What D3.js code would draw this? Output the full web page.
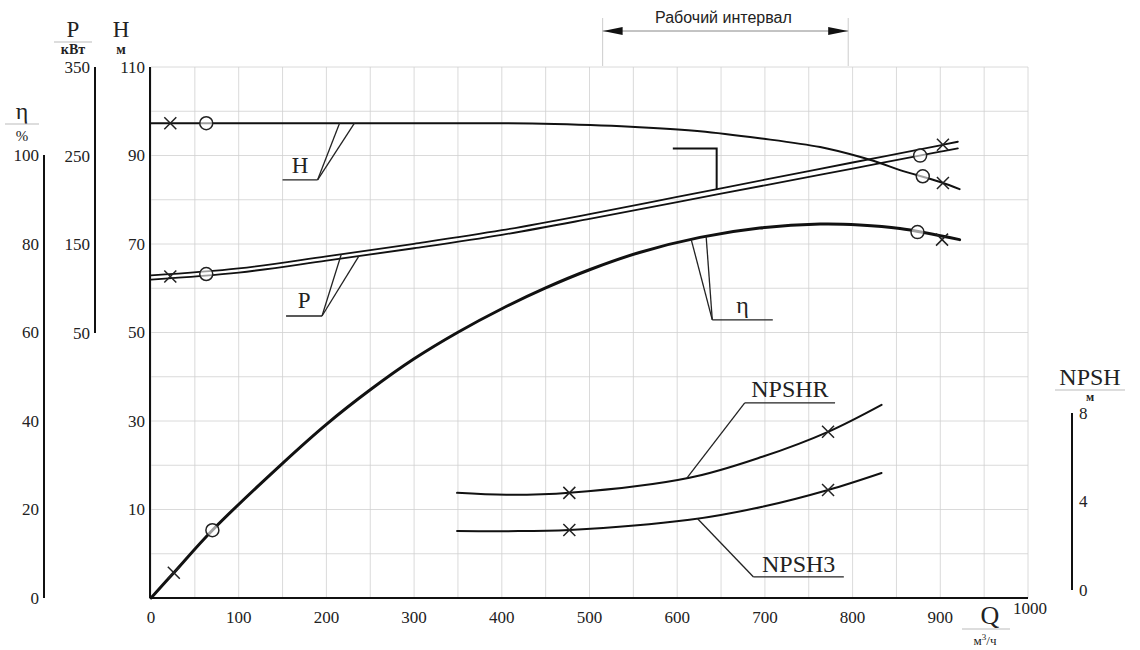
<!DOCTYPE html>
<html>
<head>
<meta charset="utf-8">
<script src="https://cdn.jsdelivr.net/npm/d3@7"></script>
<style>
  body { margin: 0; background: #fff; }
  svg { font-family: "Liberation Serif", "Times New Roman", serif; }
</style>
</head>
<body>
<div id="chart"></div>
<script>
// --- данные ---
var hQ = [0, 100, 200, 300, 400, 460, 557, 626, 694, 763, 808, 831, 854, 900, 922];
var hVal = [97.3, 97.3, 97.3, 97.3, 97.3, 97.1, 96.4, 95.5, 93.9, 91.9, 89.7, 88.3, 86.7, 84.0, 82.4];

var pQ = [0, 100, 200, 300, 400, 500, 600, 700, 800, 900, 920];
var pUpper = [114.9, 122.8, 136.4, 150.6, 165.9, 184.1, 203.5, 222.9, 242.3, 261.7, 265.7];
var pLower = [110.3, 118.2, 131.6, 145.6, 160.7, 178.7, 197.7, 216.5, 235.5, 254.5, 258.3];

var etaQ = [0, 26, 70, 150, 200, 250, 300, 350, 400, 450, 500, 557, 626, 694, 763, 808, 854, 922];
var etaVal = [0, 5.7, 15.3, 30.4, 39.2, 47.0, 54.0, 60.0, 65.3, 70.0, 74.1, 78.0, 81.4, 83.5, 84.4, 84.2, 83.4, 80.9];

var npshQ = [349, 405, 477, 614, 697, 772, 833];
var npshrVal = [4.39, 4.30, 4.39, 5.07, 6.02, 7.15, 8.37];
var npsh3Val = [2.67, 2.66, 2.71, 3.17, 3.76, 4.52, 5.29];

var hMarks = [[22, 97.3, "x"], [63, 97.3, "o"], [880, 85.3, "o"], [903, 83.8, "x"]];
var pMarks = [[22, 113.7, "x"], [63, 116.5, "o"], [877, 250.1, "o"], [903, 262.3, "x"]];
var etaMarks = [[26, 5.7, "x"], [70, 15.3, "o"], [874, 82.6, "o"], [902, 80.9, "x"]];
var npshrMarks = [[477, 4.39], [772, 7.15]];
var npsh3Marks = [[477, 2.71], [772, 4.52]];

var qTicks = [0, 100, 200, 300, 400, 500, 600, 700, 800, 900, 1000];
var hTicks = [10, 30, 50, 70, 90, 110];
var pTicks = [50, 150, 250, 350];
var etaTicks = [0, 20, 40, 60, 80, 100];
var npshTicks = [0, 4, 8];
var workRange = [515, 795];

var width = 1140, height = 650;

var svg = d3.select("#chart").append("svg")
    .attr("width", width)
    .attr("height", height);

var x = d3.scaleLinear().domain([0, 1000]).range([151, 1028]);
var yH = d3.scaleLinear().domain([-10, 110]).range([598, 67]);
var yP = d3.scaleLinear().domain([50, 350]).range([333, 67]);
var yEta = d3.scaleLinear().domain([0, 100]).range([598, 155]);
var yN = d3.scaleLinear().domain([0, 8]).range([590, 413]);

// сетка
var grid = svg.append("g").attr("stroke", "#d0d0d0").attr("stroke-width", 0.8);
grid.selectAll("line.v")
    .data(d3.range(0, 1001, 50))
    .enter().append("line")
    .attr("x1", d => x(d)).attr("x2", d => x(d))
    .attr("y1", yH(110)).attr("y2", yH(-10));
grid.selectAll("line.h")
    .data(d3.range(-10, 111, 10))
    .enter().append("line")
    .attr("x1", x(0)).attr("x2", x(1000))
    .attr("y1", d => yH(d)).attr("y2", d => yH(d));

// оси
function vAxis(scale, xpos, ticks, lo, hi, labelDx) {
    var g = svg.append("g");
    g.append("line")
        .attr("x1", xpos).attr("x2", xpos)
        .attr("y1", scale(hi)).attr("y2", scale(lo))
        .attr("stroke", "#111").attr("stroke-width", 2);
    g.selectAll("text")
        .data(ticks)
        .enter().append("text")
        .attr("x", xpos + labelDx)
        .attr("y", d => scale(d))
        .attr("dy", "0.35em")
        .attr("text-anchor", labelDx < 0 ? "end" : "start")
        .attr("font-size", 17)
        .attr("fill", "#222")
        .text(d => d);
}
vAxis(yEta, 44, etaTicks, 0, 100, -5);
vAxis(yP, 95, pTicks, 50, 350, -5);
vAxis(yH, 150, hTicks, -10, 110, -5);
vAxis(yN, 1072, npshTicks, 0, 8, 7);

svg.append("line")
    .attr("x1", x(0) - 1).attr("x2", x(1000))
    .attr("y1", yH(-10)).attr("y2", yH(-10))
    .attr("stroke", "#111").attr("stroke-width", 2);
svg.append("g").selectAll("text")
    .data(qTicks)
    .enter().append("text")
    .attr("x", d => x(d) + (d === 1000 ? 2 : 0))
    .attr("y", d => d === 1000 ? 614 : 623)
    .attr("text-anchor", "middle")
    .attr("font-size", 17)
    .attr("fill", "#222")
    .text(d => d);

// подписи осей
function axisTitle(cx, top, main, unit, size, rule, unitDy, unitSize, bold) {
    svg.append("text").attr("x", cx).attr("y", top)
        .attr("text-anchor", "middle").attr("font-size", size).attr("fill", "#222").text(main);
    if (rule) {
        svg.append("line").attr("x1", cx - rule).attr("x2", cx + rule)
            .attr("y1", top + 5).attr("y2", top + 5)
            .attr("stroke", "#bbb").attr("stroke-width", 1);
    }
    svg.append("text").attr("x", cx).attr("y", top + unitDy)
        .attr("text-anchor", "middle").attr("font-size", unitSize)
        .attr("font-weight", bold ? "bold" : "normal")
        .attr("fill", "#222").text(unit);
}
axisTitle(22, 119, "η", "%", 24, 17, 22, 15, false);
axisTitle(73, 37, "P", "кВт", 23, 19, 17, 14, true);
axisTitle(121, 37, "H", "м", 23, 0, 17, 14, true);
axisTitle(1090, 385, "NPSH", "м", 24, 35, 16, 12, true);

svg.append("text").attr("x", 990).attr("y", 624)
    .attr("text-anchor", "middle").attr("font-size", 26).attr("fill", "#222").text("Q");
svg.append("line").attr("x1", 962).attr("x2", 1010).attr("y1", 629).attr("y2", 629)
    .attr("stroke", "#bbb");
var qUnit = svg.append("text").attr("x", 985).attr("y", 645)
    .attr("text-anchor", "middle").attr("font-size", 13).attr("fill", "#222");
qUnit.append("tspan").text("м");
qUnit.append("tspan").attr("dy", -5).attr("font-size", 9).text("3");
qUnit.append("tspan").attr("dy", 5).text("/ч");

// рабочий интервал
svg.append("defs").selectAll("marker")
    .data(["arrowEnd", "arrowStart"])
    .enter().append("marker")
    .attr("id", d => d)
    .attr("viewBox", "0 0 20 8")
    .attr("refX", 20).attr("refY", 4)
    .attr("markerWidth", 20).attr("markerHeight", 8)
    .attr("markerUnits", "userSpaceOnUse")
    .attr("orient", d => d === "arrowEnd" ? "auto" : "auto-start-reverse")
    .append("path").attr("d", "M0,0L20,4L0,8Z").attr("fill", "#111");

svg.selectAll("line.work")
    .data(workRange)
    .enter().append("line")
    .attr("x1", d => x(d)).attr("x2", d => x(d))
    .attr("y1", 18).attr("y2", 66)
    .attr("stroke", "#ccc").attr("stroke-width", 1);
svg.append("line")
    .attr("x1", x(workRange[0])).attr("x2", x(workRange[1]))
    .attr("y1", 31).attr("y2", 31)
    .attr("stroke", "#888").attr("stroke-width", 1)
    .attr("marker-start", "url(#arrowStart)")
    .attr("marker-end", "url(#arrowEnd)");
svg.append("text")
    .attr("x", (x(workRange[0]) + x(workRange[1])) / 2 - 2).attr("y", 23)
    .attr("text-anchor", "middle")
    .attr("font-family", "'Liberation Sans', Arial, sans-serif")
    .attr("font-size", 16).attr("fill", "#222")
    .text("Рабочий интервал");

// кривые
function curve(qs, vals, scale, w) {
    var line = d3.line()
        .x((d, i) => x(qs[i]))
        .y(d => scale(d))
        .curve(d3.curveCatmullRom.alpha(0.5));
    svg.append("path")
        .attr("d", line(vals))
        .attr("fill", "none")
        .attr("stroke", "#111")
        .attr("stroke-width", w)
        .attr("stroke-linecap", "round");
}
curve(hQ, hVal, yH, 2);
curve(pQ, pUpper, yP, 1.8);
curve(pQ, pLower, yP, 1.8);
curve(etaQ, etaVal, yEta, 3);
curve(npshQ, npshrVal, yN, 2);
curve(npshQ, npsh3Val, yN, 2);

// маркеры
function marks(data, scale) {
    data.forEach(function(m) {
        var cx = x(m[0]), cy = scale(m[1]);
        if (m[2] === "o") {
            svg.append("circle").attr("cx", cx).attr("cy", cy).attr("r", 6.5)
                .attr("fill", "#fff").attr("fill-opacity", 0.6)
                .attr("stroke", "#222").attr("stroke-width", 1.5);
        } else {
            svg.append("path")
                .attr("d", `M${cx - 6},${cy - 6}L${cx + 6},${cy + 6}M${cx - 6},${cy + 6}L${cx + 6},${cy - 6}`)
                .attr("stroke", "#222").attr("stroke-width", 1.5);
        }
    });
}
marks(hMarks, yH);
marks(pMarks, yP);
marks(etaMarks, yEta);
marks(npshrMarks.map(d => [d[0], d[1], "x"]), yN);
marks(npsh3Marks.map(d => [d[0], d[1], "x"]), yN);

// выноски
function interp(qs, vals, q) {
    return d3.scaleLinear().domain(qs).range(vals)(q);
}
function leader(text, q0, q1, yv, scaleBase, targets, size, textDy) {
    var g = svg.append("g").attr("stroke", "#222").attr("stroke-width", 1.3).attr("fill", "none");
    var by = scaleBase(yv);
    var anchorX = targets[0][0] < q0 ? x(q0) : x(q1);
    g.append("line").attr("x1", x(q0)).attr("x2", x(q1)).attr("y1", by).attr("y2", by);
    targets.forEach(function(t) {
        g.append("line").attr("x1", anchorX).attr("y1", by).attr("x2", x(t[0])).attr("y2", t[1]);
    });
    svg.append("text")
        .attr("x", (x(q0) + x(q1)) / 2).attr("y", by - textDy)
        .attr("text-anchor", "middle").attr("font-size", size).attr("fill", "#222")
        .text(text);
}
leader("H", 150, 190, 84.5, yH,
    [[215, yH(interp(hQ, hVal, 215))], [232, yH(interp(hQ, hVal, 232))]], 23, 7);
leader("P", 154, 195, 69.2, yP,
    [[217, yP(interp(pQ, pUpper, 217))], [237, yP(interp(pQ, pLower, 237))]], 23, 8);
leader("η", 640, 709, 62.8, yEta,
    [[616, yEta(interp(etaQ, etaVal, 616))], [633, yEta(interp(etaQ, etaVal, 633))]], 24, 7);
leader("NPSHR", 677, 780, 8.46, yN,
    [[611, yN(interp(npshQ, npshrVal, 611))]], 24, 6);
leader("NPSH3", 687, 790, 0.59, yN,
    [[623, yN(interp(npshQ, npsh3Val, 623))]], 24, 5);

// отметка номинальной точки
svg.append("path")
    .attr("d", d3.line()([
        [x(595), yH(91.6)],
        [x(645), yH(91.6)],
        [x(645), yP(interp(pQ, pUpper, 645))]
    ]))
    .attr("fill", "none").attr("stroke", "#111").attr("stroke-width", 2);
</script>
</body>
</html>
